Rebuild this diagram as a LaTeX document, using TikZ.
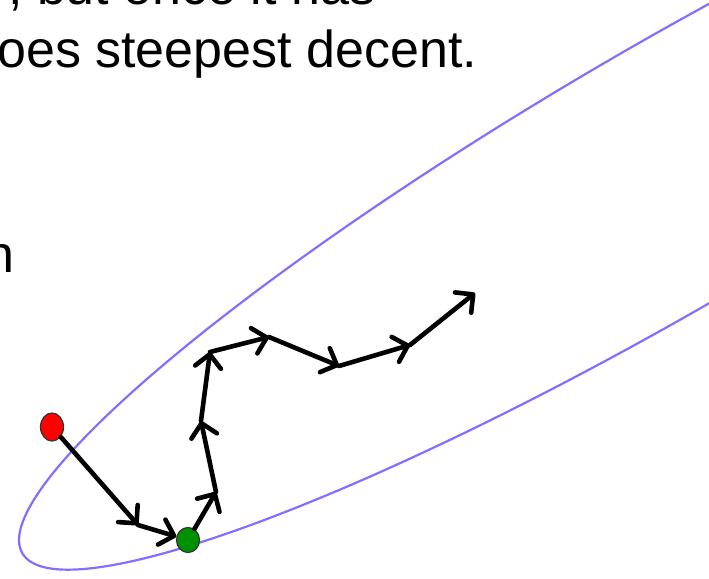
\documentclass[tikz,border=0pt]{standalone}
\usepackage{fontspec}
\setmainfont{Liberation Sans}
\usetikzlibrary{arrows.meta,shapes.geometric}
\definecolor{ellcol}{RGB}{132,110,255}
\definecolor{dotred}{RGB}{255,0,0}
\definecolor{dotgreen}{RGB}{0,145,0}
\begin{document}
\begin{tikzpicture}[x=1pt,y=-1pt,
  walk/.style={line width=4.6pt, line cap=round, line join=round,
    -{Straight Barb[length=13pt,width=26pt,round]}},
  dotnode/.style={ellipse, draw=black!80, line width=1.2pt, inner sep=0pt},
  txt/.style={anchor=base west, inner sep=0pt, font=\fontsize{52}{60}\selectfont}]
\useasboundingbox (0,0) rectangle (709,578);
\clip (0,0) rectangle (709,578);
% level curve
\draw[ellcol, line width=2.2pt] plot[domain=0:360, samples=240, smooth cycle]
  ({669-650*cos(\x)}, {176+364*cos(\x)+150*sin(\x)});
% text
\node[txt] (t1) at (8,5) {, but once it has};
\node[txt] (t2) at (-3,67) {oes steepest decent.};
\node[txt] (t3) at (-15,272) {n};
% points
\node[dotnode, fill=dotred, minimum width=23pt, minimum height=28pt] (red) at (52,427) {};
\node[dotnode, fill=dotgreen, minimum width=23pt, minimum height=25pt] (green) at (188,540) {};
\coordinate (p1) at (138,525);
\coordinate (p3) at (216,492);
\coordinate (p4) at (201,421);
\coordinate (p5) at (210,352);
\coordinate (p6) at (269,337);
\coordinate (p7) at (339,366);
\coordinate (p8) at (410,345);
\coordinate (p9) at (475,293);
% walk
\draw[walk] (red) -- (p1);
\draw[walk] (p1) -- (green);
\draw[walk] (green) -- (p3);
\draw[walk] (p3) -- (p4);
\draw[walk] (p4) -- (p5);
\draw[walk] (p5) -- (p6);
\draw[walk] (p6) -- (p7);
\draw[walk] (p7) -- (p8);
\draw[walk] (p8) -- (p9);
\end{tikzpicture}
\end{document}
